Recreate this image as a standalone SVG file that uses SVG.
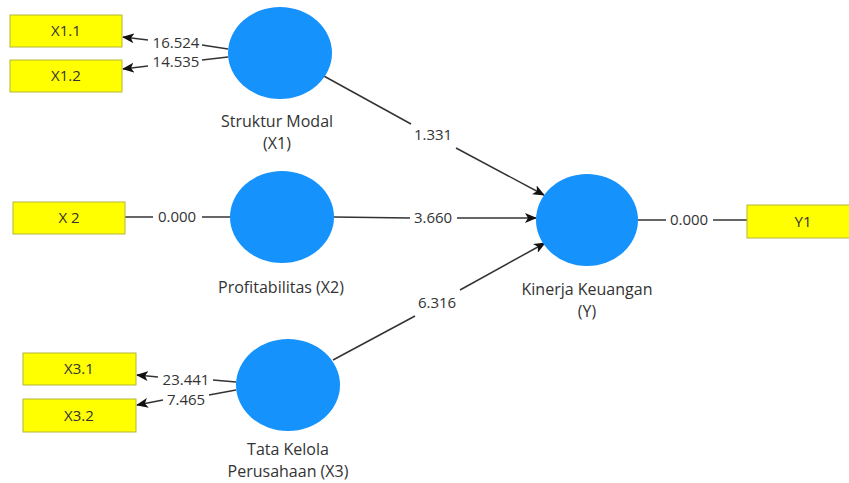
<svg xmlns="http://www.w3.org/2000/svg" width="849" height="483" viewBox="0 0 849 483">
<style>
.lv{fill:#1592fb;}
.ind{fill:#ffff00;stroke:#b5b53a;stroke-width:1;}
.t{font-family:"Open Sans","Noto Sans",sans-serif;font-size:15px;fill:#333;text-anchor:middle;}
.l{font-family:"Open Sans","Noto Sans",sans-serif;font-size:16px;fill:#333;text-anchor:middle;}
.n{font-family:"Open Sans","Noto Sans",sans-serif;font-size:15px;fill:#333;text-anchor:middle;}
.e{stroke:#333;stroke-width:1.5;fill:none;}
.a{stroke:#333;stroke-width:1.5;fill:none;marker-end:url(#ah);}
</style>
<defs>
<marker id="ah" markerWidth="12" markerHeight="10" refX="11" refY="5" orient="auto" markerUnits="userSpaceOnUse">
<path d="M0,0 L12,5 L0,10 L3,5 Z" fill="#111"/>
</marker>
</defs>
<rect width="849" height="483" fill="#fff"/>
<g id="connectors">
<path class="e" d="M228,49 L202,45"/><path class="a" d="M148,40 L123,37"/>
<path class="e" d="M228,57 L202,60"/><path class="a" d="M148,66 L123,69"/>
<path class="e" d="M125,217 L153,217"/><path class="e" d="M202,217 L230,217"/>
<path class="e" d="M236,382 L213,380"/><path class="a" d="M158,377 L137,375"/>
<path class="e" d="M236,390 L209,395"/><path class="a" d="M163,400 L137,405"/>
<path class="e" d="M322,75 L411,124"/><path class="a" d="M456,148 L544,195"/>
<path class="e" d="M334,217 L410,218"/><path class="a" d="M457,218 L536,218"/>
<path class="e" d="M333,360 L415,316"/><path class="a" d="M460,290 L545,243"/>
<path class="e" d="M638,220 L666,220"/><path class="e" d="M713,220 L747,220"/>
<text class="n" x="176" y="48">16.524</text>
<text class="n" x="176" y="67">14.535</text>
<text class="n" x="177" y="222">0.000</text>
<text class="n" x="186" y="385">23.441</text>
<text class="n" x="186" y="405">7.465</text>
<text class="n" x="433" y="140">1.331</text>
<text class="n" x="433" y="223">3.660</text>
<text class="n" x="437" y="308">6.316</text>
<text class="n" x="689" y="225">0.000</text>
</g>
<g id="X1.1"><rect class="ind" x="10" y="15" width="112" height="32"/><text class="t" x="66" y="36">X1.1</text></g>
<g id="X1.2"><rect class="ind" x="10" y="60" width="112" height="32"/><text class="t" x="66" y="81">X1.2</text></g>
<g id="X2ind"><rect class="ind" x="13" y="202" width="112" height="32"/><text class="t" x="69" y="223">X 2</text></g>
<g id="X3.1"><rect class="ind" x="23" y="353" width="113" height="32"/><text class="t" x="79" y="374">X3.1</text></g>
<g id="X3.2"><rect class="ind" x="23" y="399" width="113" height="33"/><text class="t" x="79" y="421">X3.2</text></g>
<g id="Y1"><rect class="ind" x="747" y="205" width="112" height="33"/><text class="t" x="803" y="227">Y1</text></g>
<g id="X1"><ellipse class="lv" cx="280" cy="53" rx="52" ry="46"/><text class="l" x="277" y="127">Struktur Modal</text><text class="l" x="277" y="149">(X1)</text></g>
<g id="X2"><ellipse class="lv" cx="282" cy="217" rx="52" ry="46"/><text class="l" x="281" y="293">Profitabilitas (X2)</text></g>
<g id="X3"><ellipse class="lv" cx="288" cy="385" rx="52" ry="46"/><text class="l" x="288" y="455">Tata Kelola</text><text class="l" x="288" y="477">Perusahaan (X3)</text></g>
<g id="Y"><ellipse class="lv" cx="587" cy="220" rx="51" ry="46"/><text class="l" x="587" y="295">Kinerja Keuangan</text><text class="l" x="587" y="317">(Y)</text></g>
</svg>
